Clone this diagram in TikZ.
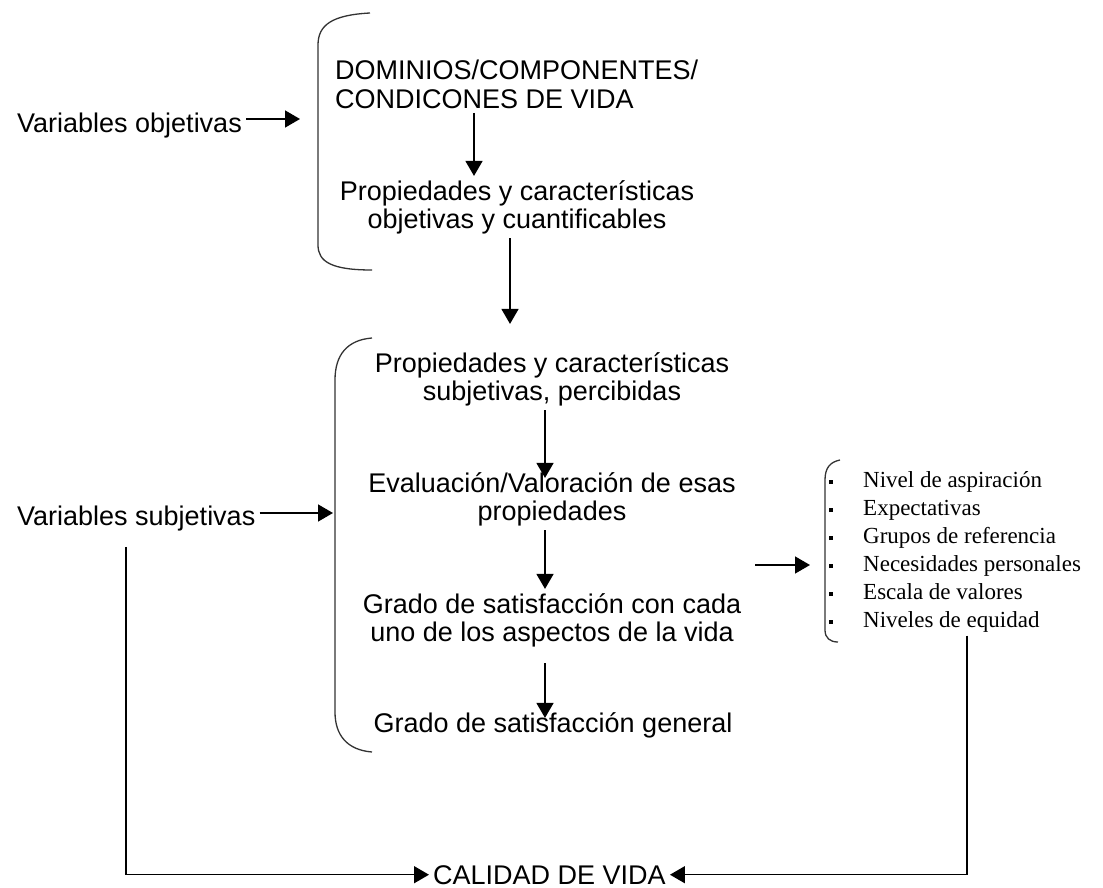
\documentclass[tikz,border=0pt]{standalone}
\usepackage{fontspec}
\setmainfont{Liberation Sans}
\newfontfamily\listafont{Liberation Serif}
\usetikzlibrary{arrows.meta}

\begin{document}
\begin{tikzpicture}[
    x=1pt, y=-1pt,
    texto/.style={font=\fontsize{27}{28.5}\selectfont, inner sep=4pt, align=center},
    flecha/.style={-{Triangle[length=15pt,width=17pt]}, line width=1.5pt},
    llave/.style={line width=1.3pt, black!80}
]
  \useasboundingbox (0,0) rectangle (1103,888);

  % 左侧变量
  \node[texto, anchor=base west] (vobj) at (13,132) {Variables objetivas};
  \node[texto, anchor=base west] (vsubj) at (13,525) {Variables subjetivas};

  % 客观部分
  \node[texto, anchor=base west, align=left] (dom) at (331,108.5) {DOMINIOS/COMPONENTES/\\CONDICONES DE VIDA};
  \node[texto, anchor=base] (propobj) at (517,228.5) {Propiedades y características\\objetivas y cuantificables};

  % 主观部分
  \node[texto, anchor=base] (propsubj) at (552,400.5) {Propiedades y características\\subjetivas, percibidas};
  \node[texto, anchor=base] (evalua) at (552,520.5) {Evaluación/Valoración de esas\\propiedades};
  \node[texto, anchor=base] (gradocada) at (552,641.5) {Grado de satisfacción con cada\\uno de los aspectos de la vida};
  \node[texto, anchor=base] (gradogen) at (553,732) {Grado de satisfacción general};

  % 右侧列表
  \node[anchor=base west, inner sep=0pt, font=\listafont\fontsize{23}{28}\selectfont] (lista) at (829,487) {%
    \begin{tabular}[t]{@{}l@{\hspace{30pt}}l@{}}
      \rule[3pt]{4pt}{4pt} & Nivel de aspiración\\
      \rule[3pt]{4pt}{4pt} & Expectativas\\
      \rule[3pt]{4pt}{4pt} & Grupos de referencia\\
      \rule[3pt]{4pt}{4pt} & Necesidades personales\\
      \rule[3pt]{4pt}{4pt} & Escala de valores\\
      \rule[3pt]{4pt}{4pt} & Niveles de equidad
    \end{tabular}};

  \node[texto, anchor=base west] (calidad) at (429,884) {CALIDAD DE VIDA};

  % 括号
  \draw[llave] (370,13) .. controls (332,15) and (318,25) .. (318,45) -- (318,245)
    .. controls (318,262) and (332,270) .. (372,270);
  \draw[llave] (372,338) .. controls (347,340) and (335,355) .. (335,380) -- (335,712)
    .. controls (335,735) and (347,750) .. (372,752);
  \draw[llave] (840,460) .. controls (830,462) and (825,468) .. (825,480) -- (825,630)
    .. controls (825,638) and (830,642) .. (838,642);

  % 箭头端点
  \coordinate (ob) at (300,119);
  \coordinate (sb) at (333,513);
  \coordinate (li) at (810,565);

  % 箭头
  \draw[flecha] (vobj.east |- ob) -- (ob);
  \draw[flecha] (vsubj.east |- sb) -- (sb);
  \draw[flecha] (dom.south -| 474,0) -- (propobj.north -| 474,0);
  \draw[flecha, shorten >=24pt] (propobj.south -| 510,0) -- (propsubj.north -| 510,0);
  \draw[flecha, shorten >=-10pt] (propsubj.south -| 545,0) -- (evalua.north -| 545,0);
  \draw[flecha] (evalua.south -| 545,0) -- (gradocada.north -| 545,0);
  \draw[flecha, shorten <=12pt, shorten >=-10pt] (gradocada.south -| 545,0) -- (gradogen.north -| 545,0);
  \draw[flecha, shorten <=10pt] (gradocada.east |- li) -- (li);
  \draw[flecha, shorten <=12pt] (vsubj.south -| 126,0) |- (calidad.west);
  \draw[flecha] (lista.south -| 967,0) |- (calidad.east);
\end{tikzpicture}
\end{document}
